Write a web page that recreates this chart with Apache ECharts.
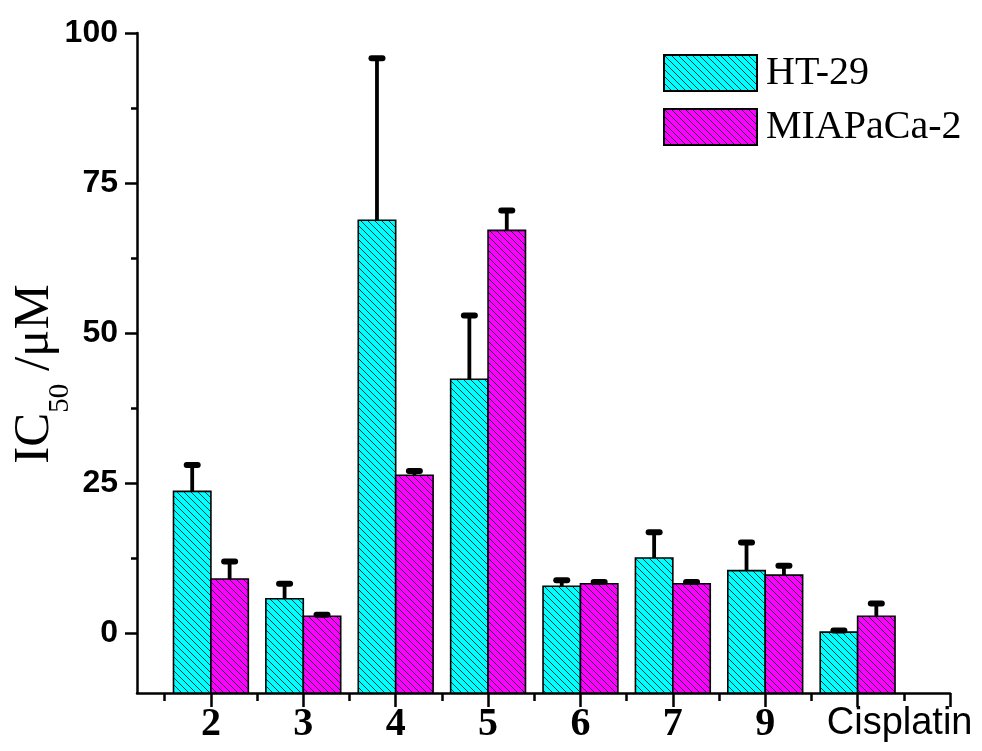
<!DOCTYPE html>
<html>
<head>
<meta charset="utf-8">
<script src="https://cdn.jsdelivr.net/npm/echarts@6/dist/echarts.min.js"></script>
<style>
html,body{margin:0;padding:0;background:#fff;}
#chart{width:982px;height:751px;}
</style>
</head>
<body>
<div id="chart"></div>
<script>
// ---- data ----
const categories = ['2', '3', '4', '5', '6', '7', '9', 'Cisplatin'];
const ht29 = [23.6, 5.7, 68.8, 42.3, 7.8, 12.5, 10.4, 0.15];
const ht29Err = [4.4, 2.5, 27.0, 10.6, 1.0, 4.3, 4.7, 0.25];
const mia = [9.0, 2.8, 26.3, 67.1, 8.2, 8.2, 9.65, 2.8];
const miaErr = [2.9, 0.25, 0.7, 3.3, 0.3, 0.3, 1.55, 2.1];
const yTicks = [0, 25, 50, 75, 100];
const yMinorTicks = [12.5, 37.5, 62.5, 87.5];
const xMajorTicks = [1, 2, 3, 4, 5, 6, 7, 8, 9];
const xMinorTicks = [0.5, 1.5, 2.5, 3.5, 4.5, 5.5, 6.5, 7.5, 8.5];
const seriesNames = ['HT-29', 'MIAPaCa-2'];

// ---- styling ----
const Y_MIN = -10, Y_MAX = 100, X_MIN = 0.2, X_MAX = 9;
const BW = 0.405; // bar width in x units

function hatch(bg) {
  const s = 7;
  const c = document.createElement('canvas');
  c.width = s; c.height = s;
  const g = c.getContext('2d');
  g.fillStyle = bg; g.fillRect(0, 0, s, s);
  g.strokeStyle = 'rgba(0,40,40,0.9)';
  g.lineWidth = 1;
  for (const k of [-s, 0, s]) {
    g.beginPath(); g.moveTo(k, 0); g.lineTo(k + s, s); g.stroke();
  }
  return { image: c, repeat: 'repeat' };
}
const patCyan = hatch('#00FFFF');
const patMag = hatch('#FF00FF');

function makeRender(side, pat) {
  return function (params, api) {
    const x = api.value(0), v = api.value(1), e = api.value(2);
    const x0 = side < 0 ? x - BW : x;
    const pTop = api.coord([x0, v]);
    const pBot = api.coord([x0 + BW, Y_MIN]);
    const cx = api.coord([x0 + BW / 2, v])[0];
    const yTop = api.coord([x, v + e])[1];
    return {
      type: 'group',
      children: [
        { type: 'rect', shape: { x: pTop[0], y: pTop[1], width: pBot[0] - pTop[0], height: pBot[1] - pTop[1] },
          style: { fill: pat, stroke: '#000', lineWidth: 1.6 } },
        { type: 'line', shape: { x1: cx, y1: pTop[1], x2: cx, y2: yTop },
          style: { stroke: '#000', lineWidth: 3.8 } },
        { type: 'line', shape: { x1: cx - 5.5, y1: yTop, x2: cx + 5.5, y2: yTop },
          style: { stroke: '#000', lineWidth: 6, lineCap: 'round' } }
      ]
    };
  };
}

const chart = echarts.init(document.getElementById('chart'), null, { renderer: 'canvas' });
const option = {
  animation: false,
  backgroundColor: '#fff',
  grid: { left: 137, right: 32, top: 33, bottom: 58, containLabel: false, outerBoundsMode: 'none' },
  legend: {
    left: 663, top: 53, orient: 'vertical', padding: 0,
    itemWidth: 93, itemHeight: 36, itemGap: 14,
    textStyle: { fontFamily: 'Liberation Serif', fontSize: 40, color: '#000', padding: [0, 0, 0, 4] },
    data: [
      { name: seriesNames[0], icon: 'rect', itemStyle: { color: patCyan, borderColor: '#000', borderWidth: 2 } },
      { name: seriesNames[1], icon: 'rect', itemStyle: { color: patMag, borderColor: '#000', borderWidth: 2 } }
    ]
  },
  xAxis: [
    {
      type: 'value', min: X_MIN, max: X_MAX, position: 'bottom',
      splitLine: { show: false },
      axisLine: { show: true, onZero: false, lineStyle: { color: '#000', width: 2.5 } },
      axisTick: { show: true, customValues: xMajorTicks, length: 14, lineStyle: { color: '#000', width: 2.5 } },
      axisLabel: {
        customValues: categories.map((c, i) => i + 1),
        margin: 12,
        formatter: function (v) {
          const c = categories[Math.round(v) - 1];
          return c === 'Cisplatin' ? '{s|' + c + '}' : '{n|' + c + '}';
        },
        rich: {
          n: { fontFamily: 'Liberation Serif', fontWeight: 'bold', fontSize: 40, color: '#000' },
          s: { fontFamily: 'Liberation Sans', fontSize: 38, color: '#000', padding: [0, 0, 0, 84] }
        }
      }
    },
    {
      type: 'value', min: X_MIN, max: X_MAX, position: 'bottom',
      splitLine: { show: false },
      axisLine: { show: false, onZero: false },
      axisTick: { show: true, customValues: xMinorTicks, length: 8, lineStyle: { color: '#000', width: 2.5 } },
      axisLabel: { show: false }
    }
  ],
  yAxis: [
    {
      type: 'value', min: Y_MIN, max: Y_MAX,
      splitLine: { show: false },
      axisLine: { show: true, onZero: false, lineStyle: { color: '#000', width: 2.5 } },
      axisTick: { show: true, customValues: yTicks, length: 12, lineStyle: { color: '#000', width: 2.5 } },
      axisLabel: {
        customValues: yTicks, margin: 19,
        fontFamily: 'Liberation Sans', fontWeight: 'bold', fontSize: 32, color: '#000'
      },
      name: '{a|IC}{b|50}{a| /μM}',
      nameLocation: 'middle', nameRotate: 90, nameGap: 77, nameMoveOverlap: false,
      nameTextStyle: {
        padding: [0, 22, 0, 0],
        rich: {
          a: { fontFamily: 'Liberation Serif', fontSize: 51, color: '#000', lineHeight: 52, verticalAlign: 'bottom' },
          b: { fontFamily: 'Liberation Serif', fontSize: 29, color: '#000', lineHeight: 52, verticalAlign: 'bottom', padding: [0, 0, -15, 0] }
        }
      }
    },
    {
      type: 'value', min: Y_MIN, max: Y_MAX, position: 'left',
      splitLine: { show: false },
      axisLine: { show: false, onZero: false },
      axisTick: { show: true, customValues: yMinorTicks, length: 6, lineStyle: { color: '#000', width: 2.5 } },
      axisLabel: { show: false }
    }
  ],
  series: [
    {
      name: seriesNames[0], type: 'custom', xAxisIndex: 0, yAxisIndex: 0,
      itemStyle: { color: patCyan },
      renderItem: makeRender(-1, patCyan),
      data: categories.map((c, i) => [i + 1, ht29[i], ht29Err[i]])
    },
    {
      name: seriesNames[1], type: 'custom', xAxisIndex: 0, yAxisIndex: 0,
      itemStyle: { color: patMag },
      renderItem: makeRender(1, patMag),
      data: categories.map((c, i) => [i + 1, mia[i], miaErr[i]])
    }
  ]
};
chart.setOption(option);
</script>
</body>
</html>
